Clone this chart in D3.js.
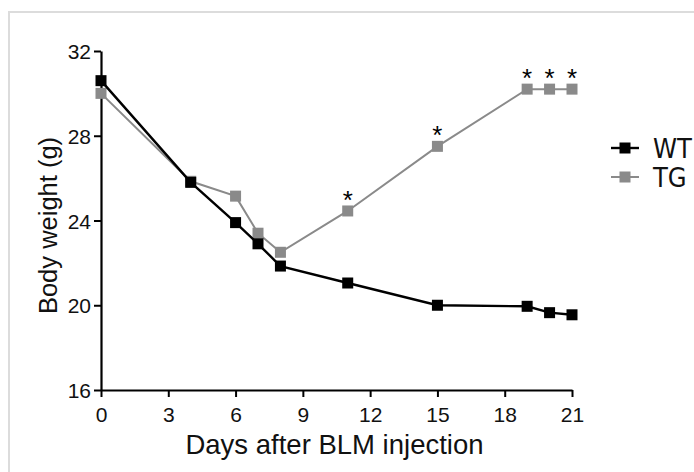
<!DOCTYPE html>
<html>
<head>
<meta charset="utf-8">
<script src="https://cdn.jsdelivr.net/npm/d3@7/dist/d3.min.js"></script>
<style>
  html, body { margin: 0; padding: 0; background: #fff; }
  svg { display: block; }
</style>
</head>
<body>
<svg id="chart" width="694" height="472"></svg>
<script>
// Body weight over time after BLM injection
const days      = [0, 4, 6, 7, 8, 11, 15, 19, 20, 21];
const wtWeight  = [30.6, 25.8, 23.9, 22.9, 21.85, 21.05, 20.0, 19.95, 19.65, 19.55];
const tgWeight  = [30.0, 25.85, 25.15, 23.4, 22.5, 24.45, 27.5, 30.2, 30.2, 30.2];
const tgSignif  = [false, false, false, false, false, true, true, true, true, true];
const xTicks    = [0, 3, 6, 9, 12, 15, 18, 21];
const yTicks    = [16, 20, 24, 28, 32];
const seriesNames = ["WT", "TG"];

const svg = d3.select("#chart");

// light frame around the figure
svg.append("rect")
  .attr("x", 9).attr("y", 12)
  .attr("width", 700).attr("height", 480)
  .attr("fill", "none")
  .attr("stroke", "#dcdcdc")
  .attr("stroke-width", 2);

const x = d3.scaleLinear().domain([0, 21]).range([101, 572]);
const y = d3.scaleLinear().domain([16, 32]).range([390, 51]);

const tickFont = "'Liberation Sans', Arial, sans-serif";
const narrowFont = "'Liberation Sans Narrow', 'DejaVu Sans Condensed', sans-serif";

// axes
const xAxis = svg.append("g")
  .attr("transform", `translate(0,${y(16)})`)
  .call(d3.axisBottom(x).tickValues(xTicks).tickSize(7).tickSizeOuter(0).tickPadding(10));
const yAxis = svg.append("g")
  .attr("transform", `translate(${x(0)},0)`)
  .call(d3.axisLeft(y).tickValues(yTicks).tickSize(7).tickSizeOuter(0).tickPadding(3));

[xAxis, yAxis].forEach(g => {
  g.select(".domain").attr("stroke", "#000").attr("stroke-width", 2.2);
  g.selectAll(".tick line").attr("stroke", "#000").attr("stroke-width", 2);
  g.selectAll(".tick text")
    .attr("fill", "#111")
    .style("font-family", tickFont)
    .style("font-size", "21px");
});
yAxis.selectAll(".tick text").attr("dy", "0.36em");

// axis titles
svg.append("text")
  .attr("x", (x(0) + x(21)) / 2 - 2)
  .attr("y", 454)
  .attr("text-anchor", "middle")
  .style("font-family", tickFont)
  .style("font-size", "27.5px")
  .attr("fill", "#111")
  .text("Days after BLM injection");

svg.append("text")
  .attr("transform", `translate(57,${(y(32) + y(16)) / 2 + 5}) rotate(-90)`)
  .attr("text-anchor", "middle")
  .style("font-family", tickFont)
  .style("font-size", "25.5px")
  .attr("fill", "#111")
  .text("Body weight (g)");

const series = [
  { name: seriesNames[1], values: tgWeight, color: "#8a8a8a", lw: 2 },
  { name: seriesNames[0], values: wtWeight, color: "#000", lw: 2.4 }
];

const line = d3.line().x(d => x(d.day)).y(d => y(d.w));
const ms = 11;

series.forEach(s => {
  const pts = days.map((d, i) => ({ day: d, w: s.values[i] }));
  svg.append("path")
    .datum(pts)
    .attr("d", line)
    .attr("fill", "none")
    .attr("stroke", s.color)
    .attr("stroke-width", s.lw);
  svg.selectAll(null)
    .data(pts)
    .enter().append("rect")
    .attr("x", d => x(d.day) - ms / 2)
    .attr("y", d => y(d.w) - ms / 2)
    .attr("width", ms).attr("height", ms)
    .attr("fill", s.color);
});

// significance markers above TG points
svg.selectAll(null)
  .data(days.map((d, i) => ({ day: d, w: tgWeight[i], sig: tgSignif[i] })).filter(d => d.sig))
  .enter().append("text")
  .attr("x", d => x(d.day))
  .attr("y", d => y(d.w) - 2)
  .attr("text-anchor", "middle")
  .style("font-family", tickFont)
  .style("font-size", "26px")
  .attr("fill", "#000")
  .text("*");

// legend
const legend = [
  { name: seriesNames[0], color: "#000", lw: 2.4, yPos: 148 },
  { name: seriesNames[1], color: "#8a8a8a", lw: 2, yPos: 177 }
];
legend.forEach(l => {
  svg.append("line")
    .attr("x1", 611).attr("x2", 639)
    .attr("y1", l.yPos).attr("y2", l.yPos)
    .attr("stroke", l.color).attr("stroke-width", l.lw);
  svg.append("rect")
    .attr("x", 625 - ms / 2).attr("y", l.yPos - ms / 2)
    .attr("width", ms).attr("height", ms)
    .attr("fill", l.color);
  svg.append("text")
    .attr("x", 653).attr("y", l.yPos + 9.5)
    .style("font-family", narrowFont)
    .style("font-size", "27px")
    .attr("fill", "#111")
    .text(l.name);
});
</script>
</body>
</html>
